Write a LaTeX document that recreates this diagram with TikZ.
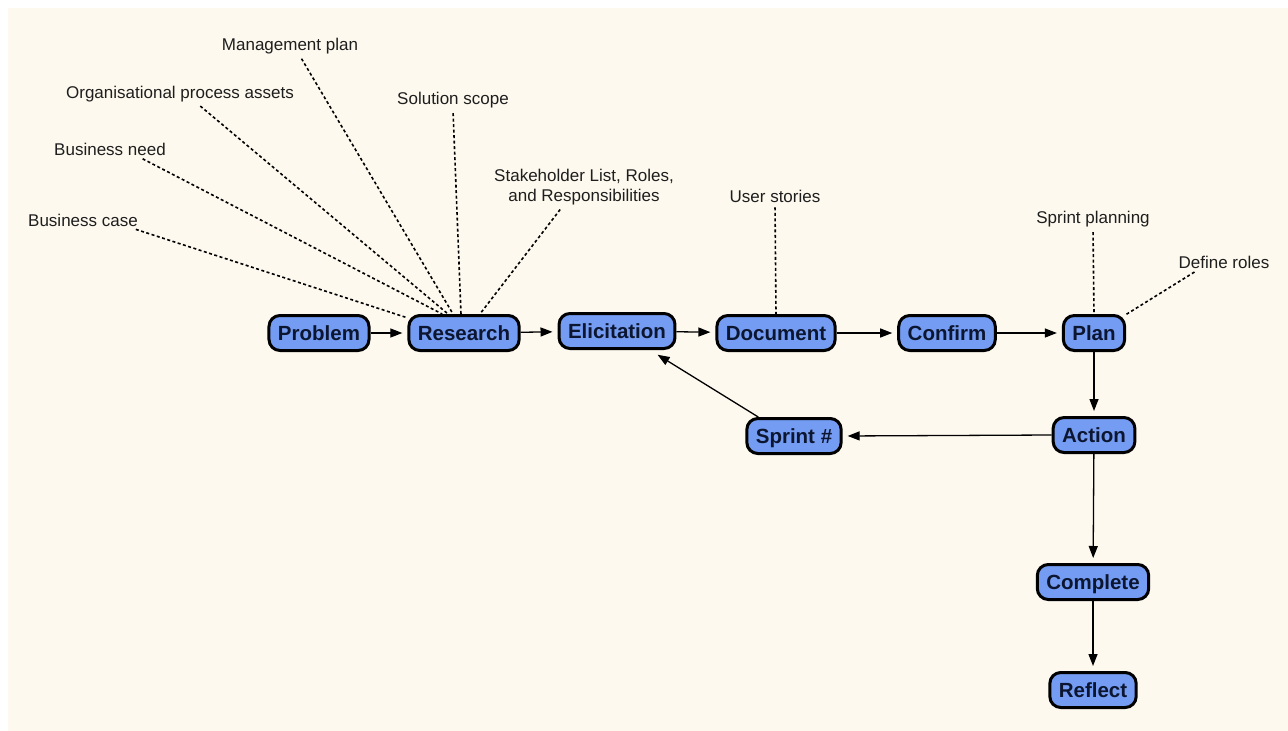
\documentclass[tikz,border=0pt]{standalone}
\usepackage{fontspec}
\setmainfont{Liberation Sans}
\usepackage{xcolor}
\usetikzlibrary{arrows.meta}
\definecolor{paper}{RGB}{253,249,238}
\definecolor{boxblue}{RGB}{116,156,242}
\definecolor{boxtext}{RGB}{12,22,48}
\definecolor{labeltext}{RGB}{30,30,30}

\begin{document}
\begin{tikzpicture}[x=1pt,y=-1pt,
  stage/.style={draw=black,line width=3pt,fill=boxblue,rounded corners=11pt,
    minimum height=35pt,inner xsep=9pt,inner ysep=0pt,text=boxtext,
    text height=18pt,text depth=4pt,font=\fontsize{20.5}{24}\selectfont\bfseries},
  note/.style={inner sep=2pt,text=labeltext,align=center,
    font=\fontsize{17}{20}\selectfont},
  flow/.style={line width=1.3pt,-{Triangle[length=12pt,width=9pt]},shorten >=5pt},
  link/.style={line width=1.6pt,dash pattern=on 3pt off 2.5pt,shorten <=3pt}]
  \useasboundingbox (0,0) rectangle (1288,731);
  \fill[white] (0,0) rectangle (1288,731);
  \fill[paper] (8,8) rectangle (1288,731);

  \node[stage] (problem) at (319,333) {Problem};
  \node[stage] (research) at (464,333) {Research};
  \node[stage] (elicit) at (617,331) {Elicitation};
  \node[stage] (document) at (776,333) {Document};
  \node[stage] (confirm) at (947,333) {Confirm};
  \node[stage] (plan) at (1094,333) {Plan};
  \node[stage] (action) at (1094,435) {Action};
  \node[stage] (sprint) at (794,436) {Sprint \#};
  \node[stage] (complete) at (1093,582) {Complete};
  \node[stage] (reflect) at (1093,690) {Reflect};

  \node[note] (mgmt) at (290,46) {Management plan};
  \node[note] (org) at (180,94) {Organisational process assets};
  \node[note] (scope) at (453,100) {Solution scope};
  \node[note] (need) at (110,149) {Business need};
  \node[note] (stake) at (584,187) {Stakeholder List, Roles,\\and Responsibilities};
  \node[note] (stories) at (775,196) {User stories};
  \node[note] (case) at (83,220) {Business case};
  \node[note] (sprintplan) at (1093,219) {Sprint planning};
  \node[note] (roles) at (1224,262) {Define roles};

  \draw[link] ([xshift=50pt]case.south) -- (research.165);
  \draw[link] ([xshift=30pt]need.south) -- (research.139);
  \draw[link] ([xshift=18pt]org.south) -- (research.130);
  \draw[link] ([xshift=10pt]mgmt.south) -- (research.120);
  \draw[link] (scope.south) -- (research.99);
  \draw[link] ([xshift=-22pt]stake.south) -- (research.50);
  \draw[link] (stories.south) -- (document.north);
  \draw[link] (sprintplan.south) -- (plan.north);
  \draw[link] ([xshift=-27pt]roles.south) -- (plan.30);

  \draw[flow] (problem) -- (research);
  \draw[flow] (research) -- (elicit);
  \draw[flow] (elicit) -- (document);
  \draw[flow] (document) -- (confirm);
  \draw[flow] (confirm) -- (plan);
  \draw[flow] (plan) -- (action);
  \draw[flow] (action.west) -- (sprint.east);
  \draw[flow,shorten >=9pt] (sprint.152) -- (elicit.-30);
  \draw[flow] (action) -- (complete);
  \draw[flow] (complete) -- (reflect);
\end{tikzpicture}
\end{document}
